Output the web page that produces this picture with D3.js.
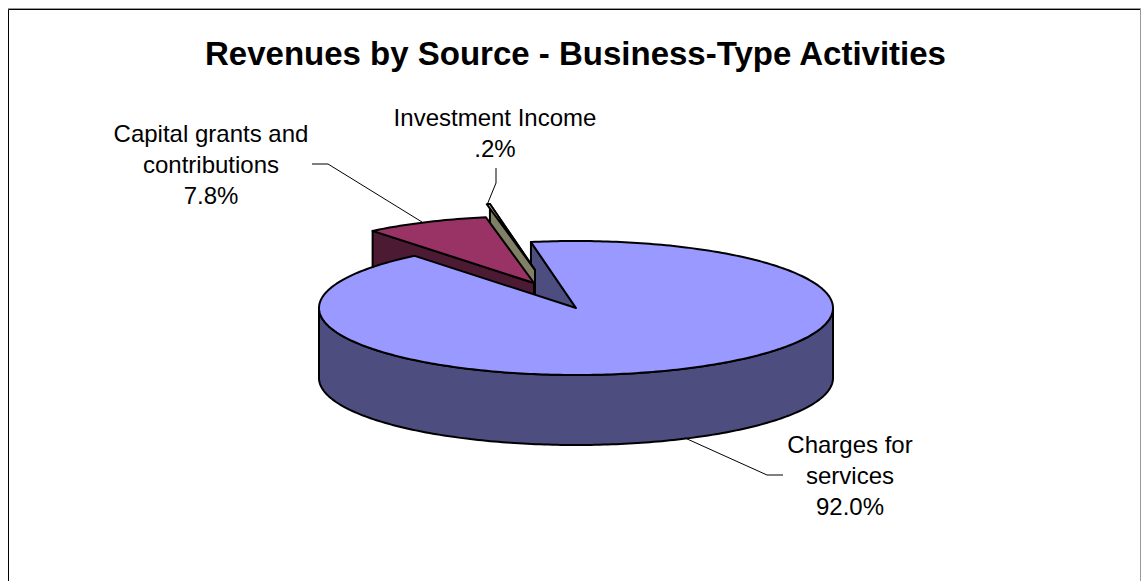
<!DOCTYPE html>
<html><head><meta charset="utf-8">
<script src="https://d3js.org/d3.v7.min.js"></script>
<style>html,body{margin:0;padding:0;background:#fff}svg{display:block}</style>
</head><body><div id="c"></div>
<script>
const title = "Revenues by Source - Business-Type Activities";
const values = [92.0, 7.8, 0.2];
const topColors = ["#9999FF", "#993366", "#FFFFCC"];
const sideColors = ["#4D4D80", "#4D1A33", "#808066"];
const labelLines = [["Charges for", "services", "92.0%"], ["Capital grants and", "contributions", "7.8%"], ["Investment Income", ".2%"]];

const W = 1141, H = 581;
const cx = 576, cy = 308, rx = 257, ry = 67, depth = 70;
const explode = [[0, 0], [-42, -25], [-41, -38]];
const startDeg = -10.1;

const svg = d3.select("#c").append("svg").attr("width", W).attr("height", H);
svg.append("path").attr("d", "M8,8.5H1140.5V581").attr("fill", "none").attr("stroke", "#999").attr("stroke-width", 1);
svg.append("path").attr("d", "M8.5,581V9.5H1140").attr("fill", "none").attr("stroke", "#000").attr("stroke-width", 1);

const slices = d3.pie().sort(null).startAngle(startDeg * Math.PI / 180)
  .endAngle((startDeg + 360) * Math.PI / 180)(values);

const pt = (i, a, r = 1, dz = 0) => [
  cx + explode[i][0] + r * rx * Math.sin(a),
  cy + explode[i][1] - r * ry * Math.cos(a) + dz
];
const line = d3.line();
const arcPts = (i, a0, a1, dz = 0) => {
  const n = Math.max(2, Math.ceil(Math.abs(a1 - a0) * 60));
  return d3.range(n + 1).map(k => pt(i, a0 + (a1 - a0) * k / n, 1, dz));
};
const stroke = (sel, w = 2) => sel.attr("stroke", "#000").attr("stroke-width", w).attr("stroke-linejoin", "round");

function topFace(i) {
  const s = slices[i];
  const p = [pt(i, 0, 0), ...arcPts(i, s.startAngle, s.endAngle)];
  stroke(svg.append("path").attr("d", line(p) + "Z").attr("fill", topColors[i]));
}
function cutWall(i, a) {
  const p = [pt(i, a, 0), pt(i, a, 1), pt(i, a, 1, depth), pt(i, a, 0, depth)];
  stroke(svg.append("path").attr("d", line(p) + "Z").attr("fill", sideColors[i]));
}
function rimWall(i, a0, a1) {
  const p = [...arcPts(i, a0, a1), ...arcPts(i, a1, a0, depth)];
  stroke(svg.append("path").attr("d", line(p) + "Z").attr("fill", sideColors[i]));
}

cutWall(0, slices[0].startAngle);
cutWall(2, slices[2].endAngle);
topFace(2);
cutWall(1, slices[1].startAngle);
topFace(1);
rimWall(0, Math.PI / 2, Math.PI * 1.5);
topFace(0);

const leaders = [
  [[685, 438], [767, 475], [783, 475]],
  [[422, 222], [328, 164], [312, 164]],
  [[487, 205], [496, 183], [496, 168]]
];
leaders.forEach(l => svg.append("path").attr("d", line(l)).attr("fill", "none")
  .attr("stroke", "#000").attr("stroke-width", 1));

svg.append("text").attr("x", 575.5).attr("y", 64.5).attr("text-anchor", "middle")
  .attr("font-family", "Liberation Sans, Arial, sans-serif").attr("font-weight", "bold")
  .attr("font-size", 33).attr("fill", "#000").text(title);

const labelPos = [[850, 453], [211, 142], [495, 126]];
labelLines.forEach((ls, i) => {
  const t = svg.append("text").attr("text-anchor", "middle")
    .attr("font-family", "Liberation Sans, Arial, sans-serif").attr("font-size", 24).attr("fill", "#000");
  ls.forEach((s, k) => t.append("tspan").attr("x", labelPos[i][0]).attr("y", labelPos[i][1] + k * 31).text(s));
});
</script></body></html>
